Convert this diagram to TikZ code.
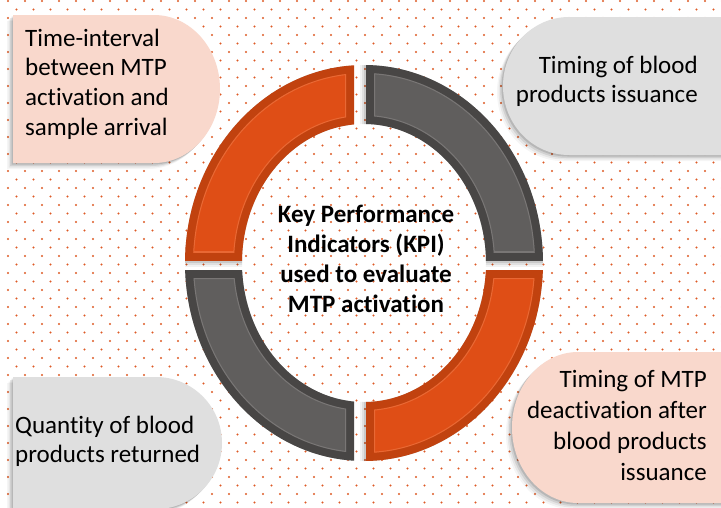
\documentclass[tikz,border=0pt]{standalone}
\usepackage{fontspec}
\setmainfont{Carlito}[Ligatures={TeX,NoCommon}]
\definecolor{dotc}{HTML}{DE5A26}
\definecolor{pinkbox}{HTML}{F9D8CC}
\definecolor{graybox}{HTML}{DFDFDF}
\definecolor{obev}{HTML}{C1420F}
\definecolor{oface}{HTML}{DF4E16}
\definecolor{olite}{HTML}{F07A48}
\definecolor{gbev}{HTML}{484645}
\definecolor{gface}{HTML}{605E5D}
\definecolor{glite}{HTML}{8A8786}
\tikzset{
  boxtext/.style={inner sep=0pt, font=\fontsize{25}{29.7}\selectfont, text=black},
  kpitext/.style={inner sep=0pt, align=center, font=\fontsize{25}{30}\selectfont\bfseries},
}
\newcommand\shadowpath[1]{%
  \foreach \s/\o in {1.5/0.12,3/0.09,4.5/0.06,6/0.04}{\fill[black,opacity=\o,shift={(-\s,\s)}] #1;}}
\newcommand\ringpath[2]{(C) ellipse[x radius=#1,y radius=#2]}
\newcommand\quadr[5]{%
  \foreach \s/\o in {2/0.10,4/0.07,6/0.05}{%
    \begin{scope}[shift={(-\s,\s)}]
      \clip (#1,#2) rectangle (#3,#4);
      \fill[black,opacity=\o,even odd rule] \ringpath{179}{198} \ringpath{122}{139};
    \end{scope}}
  \begin{scope}
    \clip (#1,#2) rectangle (#3,#4);
    \fill[#5bev,even odd rule] \ringpath{179}{198} \ringpath{122}{139};
  \end{scope}
  \begin{scope}
    \clip (#1+8,#2+8) rectangle (#3-8,#4-8);
    \begin{scope}[even odd rule]
      \clip \ringpath{171}{190} \ringpath{130}{147};
      \fill[#5face] (#1,#2) rectangle (#3,#4);
      \draw[#5lite,line width=2,opacity=0.6] \ringpath{171}{190} \ringpath{130}{147} (#1+8,#2+8) rectangle (#3-8,#4-8);
    \end{scope}
  \end{scope}}
\begin{document}
\begin{tikzpicture}[x=1pt,y=-1pt]
\useasboundingbox (0,0) rectangle (721,507);
\clip (0,0) rectangle (721,507);
\fill[white] (0,0) rectangle (721,507);
% dotted background
\foreach \j in {0,...,29}{
  \foreach \i in {0,...,42}{
    \fill[dotc] (8+17*\i,1+17*\j) circle[radius=1.1];
    \fill[dotc] (16.5+17*\i,9.5+17*\j) circle[radius=1.1];
  }
}
% ring
\coordinate (C) at (364,263);
\quadr{150}{40}{354}{260}{o}
\quadr{366}{40}{580}{260}{g}
\quadr{150}{270}{354}{490}{g}
\quadr{366}{270}{580}{490}{o}
% boxes
\def\pTL{(13,15) -- (154,15) arc[start angle=-90,end angle=90,x radius=66,y radius=74] -- (13,163) -- cycle}
\def\pTR{(730,17) -- (569,17) arc[start angle=-90,end angle=-270,x radius=66,y radius=69] -- (730,155) -- cycle}
\def\pBL{(13,377) -- (156,377) arc[start angle=-90,end angle=90,x radius=66,y radius=66] -- (13,509) -- cycle}
\def\pBR{(730,352) -- (578,352) arc[start angle=-90,end angle=-270,x radius=66,y radius=75.5] -- (730,503) -- cycle}
\shadowpath{\pTL}
\shadowpath{\pTR}
\shadowpath{\pBL}
\shadowpath{\pBR}
\fill[pinkbox] \pTL;
\fill[graybox] \pTR;
\fill[graybox] \pBL;
\fill[pinkbox] \pBR;
% texts
\node[boxtext,align=left,anchor=north west] (tl) at (25,28.5) {Time-interval\\between MTP\\activation and\\sample arrival};
\node[boxtext,align=right,anchor=north east] (tr) at (698,55.5) {Timing of blood\\products issuance};
\node[boxtext,align=left,anchor=north west] (bl) at (15,415.5) {Quantity of blood\\products returned};
\node[boxtext,align=right,anchor=north east,font=\fontsize{25}{30.7}\selectfont] (br) at (707,370.5) {Timing of MTP\\deactivation after\\blood products\\issuance};
\node[kpitext,anchor=north,text=black] (kpi) at (366,205) {Key Performance\\Indicators (KPI)\\used to evaluate\\MTP activation};
\end{tikzpicture}
\end{document}
